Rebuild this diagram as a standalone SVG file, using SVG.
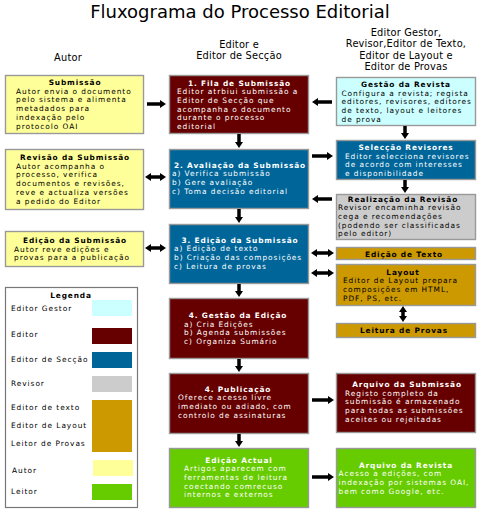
<svg xmlns="http://www.w3.org/2000/svg" width="480" height="522" viewBox="0 0 480 522">
  <defs>
    <style>
      text { font-family: "DejaVu Sans", Verdana, sans-serif; fill: #000; }
      .title { font-size: 18px; }
      .hdr { font-size: 9.8px; letter-spacing: 0.2px; text-anchor: middle; }
      .t { font-size: 7.4px; letter-spacing: 0.95px; }
      .h { font-size: 7.4px; letter-spacing: 0.85px; font-weight: bold; text-anchor: middle; }
      .w { fill: #fff; }
      .box { stroke: #999; stroke-width: 1.4; }
      .author { fill: #FFFF99; }
      .manager { fill: #CCFFFF; }
      .editor { fill: #660000; }
      .section { fill: #006699; }
      .reviewer { fill: #CCCCCC; }
      .copy { fill: #CC9900; }
      .reader { fill: #66CC00; }
      .arrow { stroke: #000; stroke-width: 3.5; fill: none; marker-end: url(#head); }
      .both { marker-start: url(#head); }
    </style>
    <marker id="head" viewBox="0 0 6 8" refX="2" refY="4" markerWidth="6" markerHeight="8" markerUnits="userSpaceOnUse" orient="auto-start-reverse">
      <path d="M0,0 L6,4 L0,8 z" fill="#000"/>
    </marker>
  </defs>

  <rect width="480" height="522" fill="#fff"/>

  <!-- Heading and column titles -->
  <text class="title" x="240" y="18" text-anchor="middle">Fluxograma do Processo Editorial</text>
  <text class="hdr" x="68" y="61">Autor</text>
  <text class="hdr" x="239" y="47.5">Editor e</text>
  <text class="hdr" x="239" y="59">Editor de Secção</text>
  <text class="hdr" x="406" y="35.5">Editor Gestor,</text>
  <text class="hdr" x="406" y="47">Revisor,Editor de Texto,</text>
  <text class="hdr" x="406" y="58.5">Editor de Layout e</text>
  <text class="hdr" x="406" y="70">Editor de Provas</text>

  <!-- Author column -->
  <g id="submissao">
    <rect class="box author" x="5.5" y="75.5" width="138" height="58"/>
    <text class="h" x="75" y="85">Submissão</text>
    <text class="t">
      <tspan x="16" y="93.7">Autor envia o documento</tspan>
      <tspan x="16" y="102.4">pelo sistema e alimenta</tspan>
      <tspan x="16" y="111.1">metadados para</tspan>
      <tspan x="16" y="119.8">indexação pelo</tspan>
      <tspan x="16" y="128.5">protocolo OAI</tspan>
    </text>
  </g>

  <g id="revisao-submissao">
    <rect class="box author" x="5.5" y="149.5" width="138" height="60"/>
    <text class="h" x="75" y="160">Revisão da Submissão</text>
    <text class="t">
      <tspan x="16" y="168.7">Autor acompanha o</tspan>
      <tspan x="16" y="177.4">processo, verifica</tspan>
      <tspan x="16" y="186.1">documentos e revisões,</tspan>
      <tspan x="16" y="194.8">reve e actualiza versões</tspan>
      <tspan x="16" y="203.5">a pedido do Editor</tspan>
    </text>
  </g>

  <g id="edicao-submissao-autor">
    <rect class="box author" x="5.5" y="231.5" width="138" height="35"/>
    <text class="h" x="75" y="243">Edição da Submissão</text>
    <text class="t">
      <tspan x="14" y="251.7">Autor reve edições e</tspan>
      <tspan x="14" y="260.4">provas para a publicação</tspan>
    </text>
  </g>

  <!-- Legend -->
  <g id="legenda">
    <rect x="5.5" y="287.5" width="132" height="220" fill="#fff" stroke="#777" stroke-width="1.2"/>
    <text class="h" x="71" y="298">Legenda</text>
    <text class="t" x="11" y="311">Editor Gestor</text>
    <rect class="manager" x="92" y="300" width="40" height="16"/>
    <text class="t" x="11" y="337">Editor</text>
    <rect class="editor" x="92" y="328" width="40" height="16"/>
    <text class="t" x="11" y="362">Editor  de Secção</text>
    <rect class="section" x="92" y="352" width="40" height="16"/>
    <text class="t" x="11" y="385.5">Revisor</text>
    <rect class="reviewer" x="92" y="376" width="40" height="16"/>
    <text class="t" x="11" y="410">Editor de texto</text>
    <text class="t" x="11" y="427.5">Editor de Layout</text>
    <text class="t" x="11" y="445.5">Leitor de Provas</text>
    <rect class="copy" x="92" y="400" width="40" height="52"/>
    <text class="t" x="12" y="472.5">Autor</text>
    <rect class="author" x="93" y="460" width="40" height="16"/>
    <text class="t" x="11" y="494">Leitor</text>
    <rect class="reader" x="92" y="484" width="40" height="16"/>
  </g>

  <!-- Editor / Section editor column -->
  <g id="fila-submissao">
    <rect class="box editor" x="169.5" y="75.5" width="139" height="58"/>
    <text class="h w" x="239.5" y="85.5">1. Fila de Submissão</text>
    <text class="t w">
      <tspan x="177" y="94.2">Editor atrbiui submissão a</tspan>
      <tspan x="177" y="102.9">Editor de Secção que</tspan>
      <tspan x="177" y="111.6">acompanha o documento</tspan>
      <tspan x="177" y="120.3">durante o processo</tspan>
      <tspan x="177" y="129">editorial</tspan>
    </text>
  </g>

  <g id="avaliacao-submissao">
    <rect class="box section" x="169.5" y="149.5" width="139" height="59"/>
    <text class="h w" x="240" y="167.5">2. Avaliação da Submissão</text>
    <text class="t w">
      <tspan x="172" y="176.2">a) Verifica submissão</tspan>
      <tspan x="172" y="184.9">b) Gere avaliação</tspan>
      <tspan x="172" y="193.6">c) Toma decisão editorial</tspan>
    </text>
  </g>

  <g id="edicao-submissao">
    <rect class="box section" x="169.5" y="224.5" width="139" height="59"/>
    <text class="h w" x="240" y="242.5">3. Edição da Submissão</text>
    <text class="t w">
      <tspan x="174" y="251.2">a) Edição de texto</tspan>
      <tspan x="174" y="259.9">b) Criação das composições</tspan>
      <tspan x="174" y="268.6">c) Leitura de provas</tspan>
    </text>
  </g>

  <g id="gestao-edicao">
    <rect class="box editor" x="169.5" y="298.5" width="139" height="60"/>
    <text class="h w" x="238" y="318">4. Gestão da Edição</text>
    <text class="t w">
      <tspan x="184" y="326.7">a) Cria Edições</tspan>
      <tspan x="184" y="335.4">b) Agenda submissões</tspan>
      <tspan x="184" y="344.1">c) Organiza Sumário</tspan>
    </text>
  </g>

  <g id="publicacao">
    <rect class="box editor" x="169.5" y="373.5" width="139" height="60"/>
    <text class="h w" x="238" y="391.5">4. Publicação</text>
    <text class="t w">
      <tspan x="178" y="400.2">Oferece acesso livre</tspan>
      <tspan x="178" y="408.9">imediato ou adiado, com</tspan>
      <tspan x="178" y="417.6">controlo de assinaturas</tspan>
    </text>
  </g>

  <g id="edicao-actual">
    <rect class="box reader" x="169.5" y="448.5" width="139" height="59"/>
    <text class="h w" x="239" y="462.5">Edição Actual</text>
    <text class="t w">
      <tspan x="184" y="471.2">Artigos aparecem com</tspan>
      <tspan x="184" y="479.9">ferramentas de leitura</tspan>
      <tspan x="184" y="488.6">coectando comrecuso</tspan>
      <tspan x="184" y="497.3">internos e externos</tspan>
    </text>
  </g>

  <!-- Manager / reviewer / copyeditor column -->
  <g id="gestao-revista">
    <rect class="box manager" x="336.5" y="77.5" width="139" height="48"/>
    <text class="h" x="406" y="87">Gestão da Revista</text>
    <text class="t">
      <tspan x="341.5" y="95.7">Configura a revista; regista</tspan>
      <tspan x="341.5" y="104.4">editores, revisores, editores</tspan>
      <tspan x="341.5" y="113.1">de texto, layout e leitores</tspan>
      <tspan x="341.5" y="121.8">de prova</tspan>
    </text>
  </g>

  <g id="seleccao-revisores">
    <rect class="box section" x="336.5" y="140.5" width="139" height="39"/>
    <text class="h w" x="406" y="150">Selecção Revisores</text>
    <text class="t w">
      <tspan x="345" y="158.7">Editor selecciona revisores</tspan>
      <tspan x="345" y="167.4">de acordo com interesses</tspan>
      <tspan x="345" y="176.1">e disponibilidade</tspan>
    </text>
  </g>

  <g id="realizacao-revisao">
    <rect class="box reviewer" x="336.5" y="194.5" width="139" height="45"/>
    <text class="h" x="403" y="201.5">Realização da Revisão</text>
    <text class="t">
      <tspan x="338" y="210.2">Revisor encaminha revisão</tspan>
      <tspan x="338" y="218.9">cega e recomendações</tspan>
      <tspan x="338" y="227.6">(podendo ser classificadas</tspan>
      <tspan x="338" y="236.3">pelo editor)</tspan>
    </text>
  </g>

  <g id="edicao-texto">
    <rect class="box copy" x="336.5" y="247.5" width="139" height="12"/>
    <text class="h" x="404" y="256.5">Edição de Texto</text>
  </g>

  <g id="layout">
    <rect class="box copy" x="336.5" y="264.5" width="139" height="41"/>
    <text class="h" x="403" y="274.5">Layout</text>
    <text class="t">
      <tspan x="343" y="283.2">Editor de Layout prepara</tspan>
      <tspan x="343" y="291.9">composições em HTML,</tspan>
      <tspan x="343" y="300.6">PDF, PS, etc.</tspan>
    </text>
  </g>

  <g id="leitura-provas">
    <rect class="box copy" x="336.5" y="323.5" width="139" height="14"/>
    <text class="h" x="404" y="333.3">Leitura de Provas</text>
  </g>

  <g id="arquivo-submissao">
    <rect class="box editor" x="336.5" y="373.5" width="139" height="59"/>
    <text class="h w" x="407" y="387">Arquivo da Submissão</text>
    <text class="t w">
      <tspan x="345" y="395.7">Registo completo da</tspan>
      <tspan x="345" y="404.4">submissão é armazenado</tspan>
      <tspan x="345" y="413.1">para todas as submissões</tspan>
      <tspan x="345" y="421.8">aceites ou rejeitadas</tspan>
    </text>
  </g>

  <g id="arquivo-revista">
    <rect class="box reader" x="336.5" y="448.5" width="139" height="59"/>
    <text class="h w" x="406" y="467.5">Arquivo da Revista</text>
    <text class="t w">
      <tspan x="338.5" y="476.2">Acesso a edições, com</tspan>
      <tspan x="338.5" y="484.9">indexação por sistemas OAI,</tspan>
      <tspan x="338.5" y="493.6">bem como Google, etc.</tspan>
    </text>
  </g>

  <!-- Connectors -->
  <g id="connectors">
    <line class="arrow" x1="147" y1="104" x2="162" y2="104"/>
    <line class="arrow both" x1="149" y1="177" x2="162" y2="177"/>
    <line class="arrow both" x1="149" y1="248" x2="162" y2="248"/>

    <line class="arrow" x1="239" y1="134" x2="239" y2="144"/>
    <line class="arrow" x1="239" y1="209" x2="239" y2="219"/>
    <line class="arrow" x1="239" y1="284" x2="239" y2="293"/>
    <line class="arrow" x1="239" y1="359" x2="239" y2="368"/>
    <line class="arrow" x1="239" y1="434" x2="239" y2="443"/>

    <line class="arrow" x1="332" y1="102" x2="316" y2="102"/>
    <line class="arrow" x1="312" y1="156" x2="329" y2="156"/>
    <line class="arrow" x1="332" y1="199" x2="316" y2="199"/>
    <line class="arrow both" x1="315" y1="253" x2="330" y2="253"/>
    <line class="arrow both" x1="315" y1="273" x2="330" y2="273"/>
    <line class="arrow" x1="312" y1="400" x2="330" y2="400"/>
    <line class="arrow" x1="312" y1="477" x2="330" y2="477"/>

    <line class="arrow" x1="405" y1="126" x2="405" y2="135"/>
    <line class="arrow" x1="405" y1="180" x2="405" y2="189"/>
    <line class="arrow both" x1="403" y1="310" x2="403" y2="318"/>
  </g>
</svg>
